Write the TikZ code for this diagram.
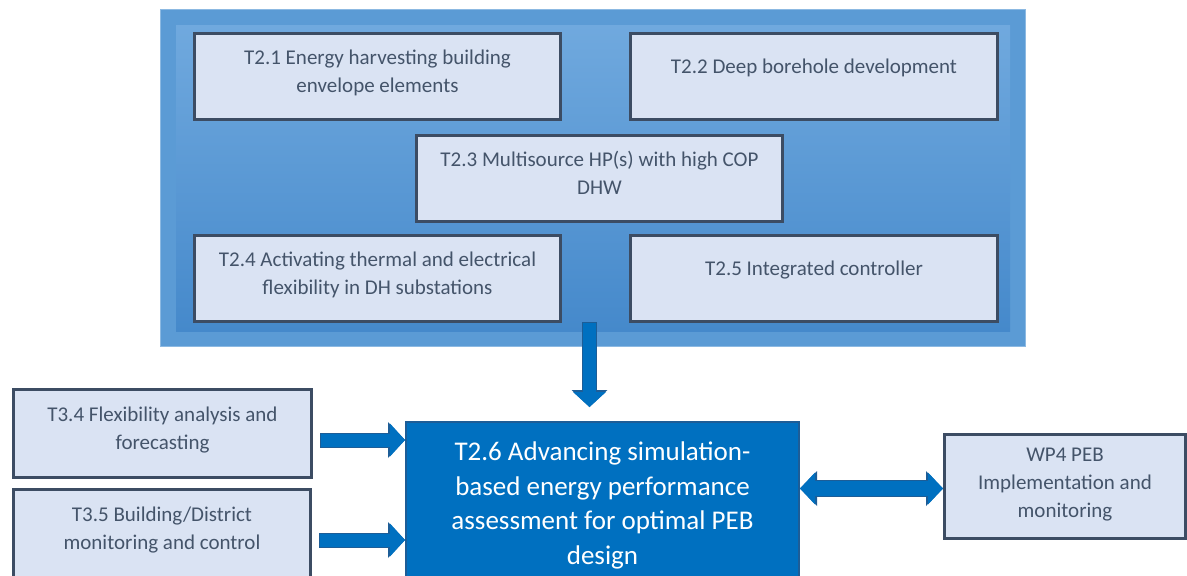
\documentclass[tikz,border=0pt]{standalone}
\usepackage{fontspec}
\setmainfont{Carlito}
\usetikzlibrary{arrows.meta}

\definecolor{panelblue}{HTML}{5B9BD5}
\definecolor{paneltop}{HTML}{70A9DE}
\definecolor{panelbot}{HTML}{4589CB}
\definecolor{boxfill}{HTML}{DAE3F3}
\definecolor{boxedge}{HTML}{3C4C63}
\definecolor{boxtext}{HTML}{44546A}
\definecolor{mainblue}{HTML}{0070C0}
\definecolor{mainedge}{HTML}{1D5D97}

\begin{document}
\begin{tikzpicture}[x=1pt,y=-1pt,
	panel/.style={fill=panelblue, draw=panelblue!70!white, line width=1pt, minimum width=865pt, minimum height=337pt, inner sep=0pt},
	panelin/.style={top color=paneltop, bottom color=panelbot, minimum width=834pt, minimum height=306pt, inner sep=0pt},
	task/.style={draw=boxedge, line width=3pt, fill=boxfill, text=boxtext, align=center, inner sep=0pt, text depth=11pt, font=\fontsize{21}{28}\selectfont},
	oneline/.style={text depth=21pt},
	mainbox/.style={draw=mainedge, line width=2pt, fill=mainblue, text=white, align=center, inner sep=0pt, font=\fontsize{27}{34.5}\selectfont},
	blockarr/.style={draw=mainblue, line width=13pt, shorten <=1pt, -{Triangle[length=15pt,width=33pt,line width=0pt]},
		preaction={draw=mainedge, line width=15pt, shorten <=0pt, -{Triangle[length=17pt,width=36pt,line width=0pt]}}},
	dblarr/.style={draw=mainblue, line width=15pt, {Triangle[length=15pt,width=32pt,line width=0pt]}-{Triangle[length=15pt,width=32pt,line width=0pt]},
		preaction={draw=mainedge, line width=17pt, {Triangle[length=17pt,width=35pt,line width=0pt]}-{Triangle[length=17pt,width=35pt,line width=0pt]}}}]
\useasboundingbox (0,0) rectangle (1187,576);
% WP2 panel
\node [panel] (wp2) at (593,178) {};
\node [panelin] (wp2in) at (593,178) {};
\node [task, minimum width=366pt, minimum height=86pt] (t21) at (377.5,76.5) {T2.1 Energy harvesting building\\envelope elements};
\node [task, oneline, minimum width=367pt, minimum height=86pt] (t22) at (814,76.5) {T2.2 Deep borehole development};
\node [task, minimum width=366pt, minimum height=86pt] (t23) at (599.5,178.5) {T2.3 Multisource HP(s) with high COP\\DHW};
\node [task, minimum width=366pt, minimum height=86pt] (t24) at (377.5,278.5) {T2.4 Activating thermal and electrical\\flexibility in DH substations};
\node [task, oneline, minimum width=367pt, minimum height=86pt] (t25) at (814,278.5) {T2.5 Integrated controller};
% lower row
\node [mainbox, minimum width=393pt, minimum height=167pt] (t26) at (602.5,505.5) {T2.6 Advancing simulation-\\based energy performance\\assessment for optimal PEB\\design};
\node [task, minimum width=298pt, minimum height=88pt] (t34) at (162.5,433.5) {T3.4 Flexibility analysis and\\forecasting};
\node [task, minimum width=297pt, minimum height=89pt] (t35) at (162,534) {T3.5 Building/District\\monitoring and control};
\node [task, text depth=7pt, minimum width=241pt, minimum height=104pt] (wp4) at (1065,486.5) {WP4 PEB\\Implementation and\\monitoring};
% arrows
\draw [blockarr, shorten >=14pt] ([xshift=-3.5pt,yshift=25pt]wp2.south) -- ([xshift=-3.5pt]wp2.south |- t26.north);
\draw [blockarr] ([xshift=7pt,yshift=-6.5pt]t34.east) -- ([yshift=-6.5pt]t34.east -| t26.west);
\draw [blockarr] ([xshift=7pt,yshift=-6pt]t35.east) -- ([yshift=-6pt]t35.east -| t26.west);
\draw [dblarr] ([yshift=-2pt]wp4.west -| t26.east) -- ([yshift=-2pt]wp4.west);
\end{tikzpicture}
\end{document}
